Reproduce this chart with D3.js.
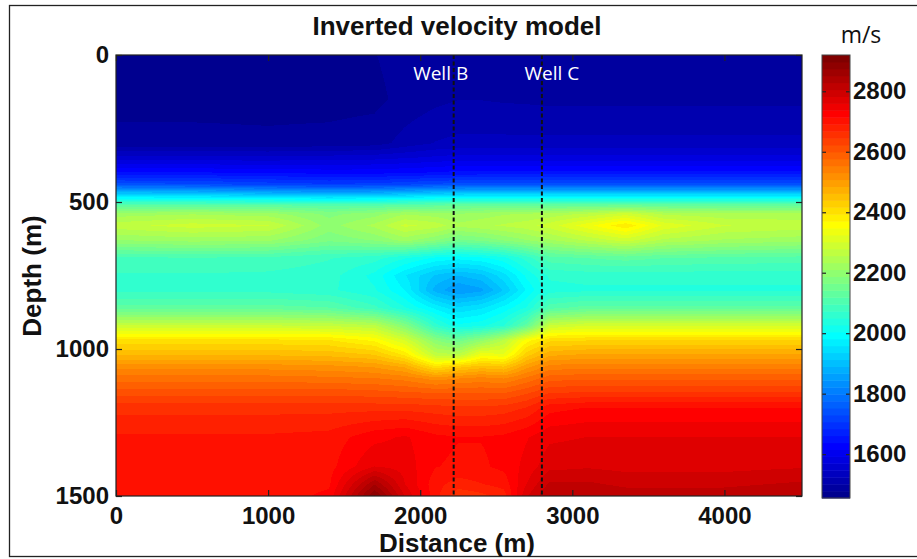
<!DOCTYPE html>
<html>
<head>
<meta charset="utf-8">
<script src="https://cdn.jsdelivr.net/npm/d3@7"></script>
<style>
  html, body { margin: 0; padding: 0; background: #fff; }
  svg { display: block; }
</style>
</head>
<body>
<svg id="chart" width="917" height="559"></svg>
<script>
// velocity grid (m/s)
const distances = [0, 500, 1000, 1400, 1700, 1900, 2100, 2250, 2400, 2550, 2700, 2850, 3100, 3350, 3600, 4000, 4500];
const depths = [0, 150, 300, 350, 400, 440, 470, 490, 510, 540, 580, 630, 690, 750, 800, 860, 920, 970, 1020, 1060, 1100, 1150, 1200, 1300, 1400, 1460, 1500];
const velocity = [
  [1475,1475,1475,1475,1477,1488,1495,1498,1498,1497,1496,1495,1495,1495,1495,1495,1495],
  [1470,1470,1470,1470,1472,1485,1495,1500,1500,1498,1497,1495,1495,1495,1495,1495,1495],
  [1485,1485,1483,1485,1490,1510,1525,1530,1530,1530,1530,1530,1530,1530,1530,1530,1530],
  [1555,1555,1555,1558,1562,1568,1575,1580,1580,1580,1580,1580,1580,1580,1580,1580,1580],
  [1640,1640,1635,1630,1630,1635,1640,1645,1645,1645,1645,1645,1645,1645,1645,1645,1645],
  [1740,1735,1720,1710,1715,1725,1735,1740,1745,1745,1745,1745,1745,1745,1745,1745,1745],
  [1905,1900,1880,1870,1875,1890,1905,1910,1915,1915,1915,1915,1915,1915,1915,1915,1915],
  [2010,2010,2000,1990,1995,2005,2015,2020,2020,2020,2020,2020,2020,2020,2020,2020,2020],
  [2120,2120,2115,2110,2110,2120,2125,2130,2130,2130,2130,2130,2130,2135,2130,2130,2130],
  [2220,2230,2220,2180,2200,2230,2220,2210,2220,2230,2235,2240,2260,2290,2250,2240,2240],
  [2270,2290,2280,2200,2240,2285,2270,2240,2250,2260,2270,2290,2340,2390,2320,2280,2270],
  [2210,2220,2215,2170,2190,2220,2190,2160,2170,2190,2210,2230,2260,2290,2250,2230,2220],
  [2090,2095,2090,2075,2060,2030,2000,1990,2000,2020,2060,2110,2120,2130,2120,2115,2110],
  [2070,2070,2068,2060,2020,1960,1910,1890,1905,1950,2010,2055,2060,2060,2060,2060,2060],
  [2065,2065,2065,2055,2030,1980,1880,1845,1860,1915,1985,2040,2045,2045,2045,2045,2045],
  [2130,2130,2130,2120,2080,2030,1975,1940,1955,1990,2030,2110,2130,2130,2130,2130,2130],
  [2280,2280,2280,2275,2260,2180,2060,2010,2020,2050,2130,2280,2300,2300,2300,2300,2300],
  [2400,2400,2400,2395,2365,2300,2190,2150,2200,2260,2360,2410,2415,2415,2415,2415,2415],
  [2460,2460,2460,2455,2440,2390,2270,2260,2340,2330,2430,2480,2490,2490,2490,2490,2490],
  [2520,2520,2520,2515,2505,2480,2400,2430,2450,2440,2500,2540,2545,2545,2545,2545,2545],
  [2565,2565,2565,2560,2555,2545,2520,2530,2540,2530,2560,2590,2595,2595,2595,2595,2595],
  [2615,2615,2615,2615,2610,2605,2600,2600,2600,2600,2620,2645,2650,2650,2650,2650,2650],
  [2660,2660,2660,2660,2660,2660,2655,2650,2650,2655,2670,2705,2715,2715,2715,2715,2715],
  [2695,2695,2695,2700,2730,2740,2720,2715,2715,2720,2735,2755,2760,2760,2760,2760,2760],
  [2700,2700,2700,2705,2760,2750,2715,2710,2710,2720,2745,2775,2780,2775,2775,2775,2780],
  [2700,2700,2700,2710,2850,2760,2700,2680,2690,2700,2760,2810,2810,2800,2800,2800,2810],
  [2700,2700,2700,2720,2900,2780,2700,2650,2660,2680,2780,2830,2830,2820,2820,2820,2830]
];

const xTicks = [0, 1000, 2000, 3000, 4000];
const yTicks = [0, 500, 1000, 1500];
const colorTicks = [1600, 1800, 2000, 2200, 2400, 2600, 2800];
const velocityRange = [1455, 2920];
const distanceRange = [0, 4510];
const depthRange = [0, 1500];

const wellNames = ["Well B", "Well C"];
const wellDistances = [2220, 2800];

// layout
const plot = {left: 116, top: 55, right: 802, bottom: 496};
const bar = {left: 822, right: 850, top: 55, bottom: 498};
const boldFont = "'Liberation Sans', Arial, sans-serif";
const lightFont = "'Open Sans', 'Noto Sans', sans-serif";
const fmt = d3.format("d");

const svg = d3.select("#chart");

// matlab style jet(64)
function jet64() {
    let u = [];
    for (let i = 1; i <= 16; i++) u.push(i / 16);
    for (let i = 0; i < 15; i++) u.push(1);
    for (let i = 16; i >= 1; i--) u.push(i / 16);
    let rgb = d3.range(64).map(() => [0, 0, 0]);
    for (let k = 0; k < u.length; k++) {
        let g = 8 + k, r = g + 16, b = g - 16;
        if (g < 64) rgb[g][1] = u[k];
        if (r < 64) rgb[r][0] = u[k];
        if (b >= 0) rgb[b][2] = u[k];
    }
    return rgb.map(c => d3.rgb(c[0] * 255, c[1] * 255, c[2] * 255).formatHex());
}

let x = d3.scaleLinear().domain(distanceRange).range([plot.left, plot.right]);
let y = d3.scaleLinear().domain(depthRange).range([plot.top, plot.bottom]);
let color = d3.scaleQuantize().domain(velocityRange).range(jet64());

// bilinear lookup in the grid
function sample(dist, depth) {
    let i = Math.max(0, Math.min(distances.length - 2, d3.bisectRight(distances, dist) - 1));
    let j = Math.max(0, Math.min(depths.length - 2, d3.bisectRight(depths, depth) - 1));
    let tx = Math.max(0, Math.min(1, (dist - distances[i]) / (distances[i + 1] - distances[i])));
    let ty = Math.max(0, Math.min(1, (depth - depths[j]) / (depths[j + 1] - depths[j])));
    let a = velocity[j][i] * (1 - tx) + velocity[j][i + 1] * tx;
    let b = velocity[j + 1][i] * (1 - tx) + velocity[j + 1][i + 1] * tx;
    return a * (1 - ty) + b * ty;
}

// outer frame
svg.append("rect")
    .attr("x", 9.5).attr("y", 5.5)
    .attr("width", 930).attr("height", 551)
    .attr("fill", "none").attr("stroke", "#222").attr("stroke-width", 1.3);

// paint the velocity field into a canvas, then into the svg
let pw = plot.right - plot.left, ph = plot.bottom - plot.top;
let canvas = document.createElement("canvas");
canvas.width = pw;
canvas.height = ph;
let ctx = canvas.getContext("2d");
let img = ctx.createImageData(pw, ph);
let cache = new Map();
for (let py = 0; py < ph; py++) {
    let depth = y.invert(plot.top + py + 0.5);
    for (let px = 0; px < pw; px++) {
        let dist = x.invert(plot.left + px + 0.5);
        let c = color(sample(dist, depth));
        if (!cache.has(c)) cache.set(c, d3.rgb(c));
        let rgb = cache.get(c);
        let k = (py * pw + px) * 4;
        img.data[k] = rgb.r;
        img.data[k + 1] = rgb.g;
        img.data[k + 2] = rgb.b;
        img.data[k + 3] = 255;
    }
}
ctx.putImageData(img, 0, 0);

svg.append("image")
    .attr("x", plot.left).attr("y", plot.top)
    .attr("width", pw).attr("height", ph)
    .attr("preserveAspectRatio", "none")
    .attr("href", canvas.toDataURL());

// wells
svg.selectAll(".well")
    .data(wellDistances)
    .enter().append("line")
    .attr("class", "well")
    .attr("x1", d => x(d)).attr("x2", d => x(d))
    .attr("y1", plot.top).attr("y2", plot.bottom)
    .attr("stroke", "#111")
    .attr("stroke-width", 2)
    .attr("stroke-dasharray", "4,2.5");

const labelShift = [-13, 10];
svg.selectAll(".wellLabel")
    .data(wellNames)
    .enter().append("text")
    .attr("class", "wellLabel")
    .attr("x", (d, i) => x(wellDistances[i]) + labelShift[i])
    .attr("y", 80)
    .attr("text-anchor", "middle")
    .attr("fill", "#fff")
    .style("font-family", lightFont)
    .style("font-size", "19px")
    .text(d => d);

// axes, matlab style ticks pointing inward
function styleAxis(g, showText) {
    g.select(".domain").remove();
    g.selectAll(".tick line").attr("stroke", "#222").attr("stroke-width", 1.2);
    g.selectAll("text")
        .style("font-family", boldFont)
        .style("font-weight", "bold")
        .style("font-size", "24px")
        .attr("fill", "#111");
    if (!showText) g.selectAll("text").remove();
}

svg.append("g")
    .attr("transform", "translate(0," + plot.bottom + ")")
    .call(d3.axisBottom(x).tickValues(xTicks).tickFormat(fmt).tickSizeInner(-6).tickSizeOuter(0).tickPadding(11))
    .call(g => styleAxis(g, true));
svg.append("g")
    .attr("transform", "translate(0," + plot.top + ")")
    .call(d3.axisTop(x).tickValues(xTicks).tickSizeInner(-6).tickSizeOuter(0))
    .call(g => styleAxis(g, false));
svg.append("g")
    .attr("transform", "translate(" + plot.left + ",0)")
    .call(d3.axisLeft(y).tickValues(yTicks).tickFormat(fmt).tickSizeInner(-6).tickSizeOuter(0).tickPadding(7))
    .call(g => styleAxis(g, true));
svg.append("g")
    .attr("transform", "translate(" + plot.right + ",0)")
    .call(d3.axisRight(y).tickValues(yTicks).tickSizeInner(-6).tickSizeOuter(0))
    .call(g => styleAxis(g, false));

svg.append("rect")
    .attr("x", plot.left).attr("y", plot.top)
    .attr("width", pw).attr("height", ph)
    .attr("fill", "none").attr("stroke", "#222").attr("stroke-width", 1.2);

// colour bar
let cy = d3.scaleLinear().domain(velocityRange).range([bar.bottom, bar.top]);
svg.append("g")
    .selectAll("rect")
    .data(color.range())
    .enter().append("rect")
    .attr("x", bar.left)
    .attr("width", bar.right - bar.left)
    .attr("y", d => cy(color.invertExtent(d)[1]))
    .attr("height", d => cy(color.invertExtent(d)[0]) - cy(color.invertExtent(d)[1]) + 0.5)
    .attr("fill", d => d);

svg.append("g")
    .attr("transform", "translate(" + bar.right + ",0)")
    .call(d3.axisRight(cy).tickValues(colorTicks).tickFormat(fmt).tickSizeInner(-4).tickSizeOuter(0).tickPadding(3))
    .call(g => styleAxis(g, true));
svg.append("g")
    .attr("transform", "translate(" + bar.left + ",0)")
    .call(d3.axisLeft(cy).tickValues(colorTicks).tickSizeInner(-4).tickSizeOuter(0))
    .call(g => styleAxis(g, false));

svg.append("rect")
    .attr("x", bar.left).attr("y", bar.top)
    .attr("width", bar.right - bar.left).attr("height", bar.bottom - bar.top)
    .attr("fill", "none").attr("stroke", "#444").attr("stroke-width", 1);

// titles
svg.append("text")
    .attr("x", 457).attr("y", 35)
    .attr("text-anchor", "middle")
    .style("font-family", boldFont).style("font-weight", "bold").style("font-size", "26px")
    .attr("fill", "#111")
    .text("Inverted velocity model");

svg.append("text")
    .attr("x", 457).attr("y", 552)
    .attr("text-anchor", "middle")
    .style("font-family", boldFont).style("font-weight", "bold").style("font-size", "26px")
    .attr("fill", "#111")
    .text("Distance (m)");

svg.append("text")
    .attr("transform", "translate(41,276) rotate(-90)")
    .attr("text-anchor", "middle")
    .style("font-family", boldFont).style("font-weight", "bold").style("font-size", "26px")
    .attr("fill", "#111")
    .text("Depth (m)");

svg.append("text")
    .attr("x", 861).attr("y", 43)
    .attr("text-anchor", "middle")
    .style("font-family", lightFont).style("font-size", "23px")
    .attr("fill", "#111")
    .text("m/s");
</script>
</body>
</html>
